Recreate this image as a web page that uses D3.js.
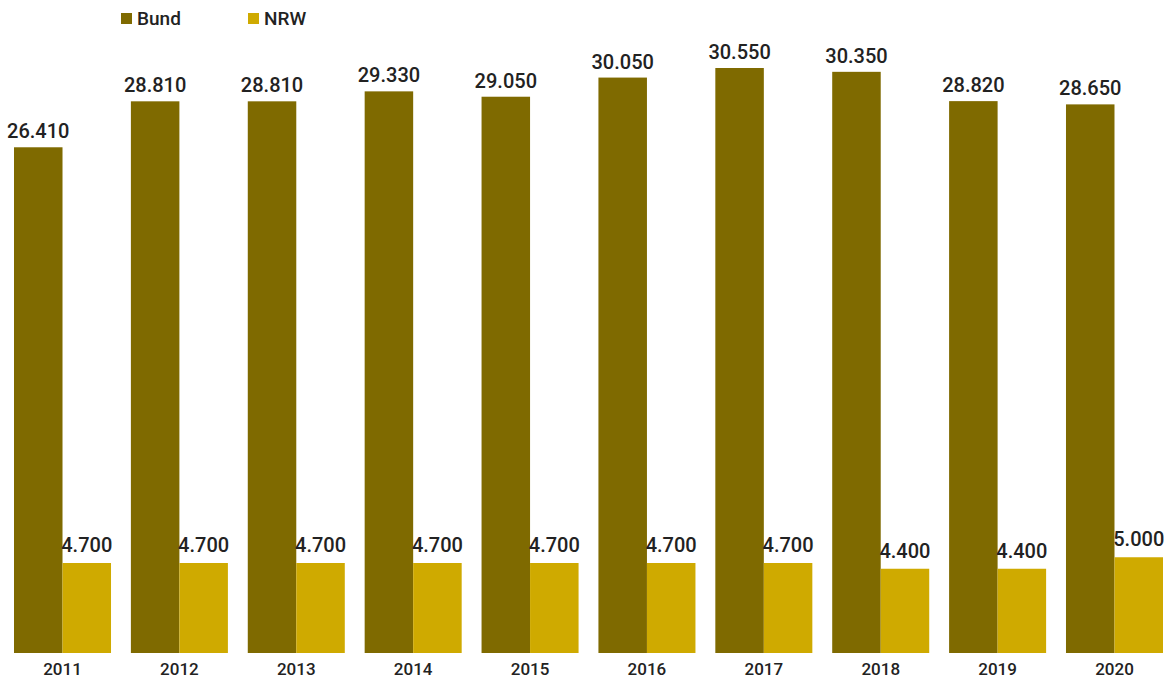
<!DOCTYPE html>
<html>
<head>
<meta charset="utf-8">
<script src="https://cdn.jsdelivr.net/npm/d3@7"></script>
<style>
  body { margin: 0; background: #fff; }
  text { font-family: Roboto, "Noto Sans", sans-serif; fill: #222; }
</style>
</head>
<body>
<script>
(function() {
    var w = 1173;
    var h = 683;

    var years = ["2011", "2012", "2013", "2014", "2015", "2016", "2017", "2018", "2019", "2020"];
    var bund = [26410, 28810, 28810, 29330, 29050, 30050, 30550, 30350, 28820, 28650];
    var nrw = [4700, 4700, 4700, 4700, 4700, 4700, 4700, 4400, 4400, 5000];
    var seriesNames = ["Bund", "NRW"];
    var colors = ["#7f6a00", "#cfaa00"];

    var de = d3.formatLocale({decimal: ",", thousands: ".", grouping: [3], currency: ["", " €"]});
    var fmt = de.format(",");

    var baseline = 653;

    var svg = d3.select("body").append("svg")
        .attr("width", w)
        .attr("height", h);

    var x0 = d3.scaleBand()
        .domain(years)
        .range([14, 1163])
        .paddingInner(0.17)
        .paddingOuter(0);

    var x1 = d3.scaleBand()
        .domain(seriesNames)
        .range([0, x0.bandwidth()]);

    var y = d3.scaleLinear()
        .domain([0, 30550])
        .range([baseline, 68]);

    var rows = years.map(function(yr, i) {
        return {year: yr, values: [bund[i], nrw[i]]};
    });

    var groups = svg.selectAll("g.grp")
        .data(rows)
        .enter()
        .append("g")
        .attr("class", "grp")
        .attr("transform", function(d) { return "translate(" + x0(d.year) + ",0)"; });

    groups.selectAll("rect")
        .data(function(d) { return d.values; })
        .enter()
        .append("rect")
        .attr("x", function(d, i) { return x1(seriesNames[i]); })
        .attr("y", function(d) { return y(d); })
        .attr("width", x1.bandwidth())
        .attr("height", function(d) { return baseline - y(d); })
        .attr("fill", function(d, i) { return colors[i]; });

    groups.selectAll("text.val")
        .data(function(d) { return d.values; })
        .enter()
        .append("text")
        .attr("class", "val")
        .attr("x", function(d, i) { return x1(seriesNames[i]) + x1.bandwidth() / 2; })
        .attr("y", function(d, i) { return y(d) - (i === 0 ? 9 : 11); })
        .attr("text-anchor", "middle")
        .attr("font-size", 20)
        .attr("font-weight", 500)
        .text(function(d) { return fmt(d); });

    // year axis, no line or ticks
    var xAxis = svg.append("g")
        .attr("transform", "translate(0," + baseline + ")")
        .call(d3.axisBottom(x0).tickSize(0).tickPadding(10));
    xAxis.select(".domain").remove();
    xAxis.selectAll("text")
        .attr("font-size", 17)
        .attr("font-weight", 500)
        .attr("font-family", "Roboto, sans-serif")
        .attr("fill", "#222");

    // legend
    var legend = svg.append("g");
    var lx = [121, 248];
    seriesNames.forEach(function(name, i) {
        legend.append("rect")
            .attr("x", lx[i])
            .attr("y", 13)
            .attr("width", 11)
            .attr("height", 11)
            .attr("fill", colors[i]);
        legend.append("text")
            .attr("x", lx[i] + 16)
            .attr("y", 25)
            .attr("font-size", 19)
            .attr("font-weight", 500)
            .text(name);
    });
})();
</script>
</body>
</html>
